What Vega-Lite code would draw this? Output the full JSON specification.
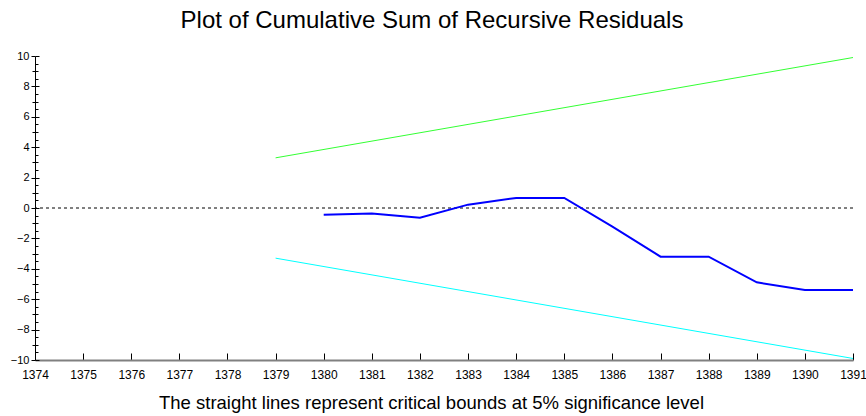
{
  "$schema": "https://vega.github.io/schema/vega-lite/v6.json",
  "autosize": "none",
  "width": 818,
  "height": 304,
  "padding": {"left": 35, "top": 56, "right": 13, "bottom": 56},
  "background": "white",
  "config": {
    "view": {"stroke": null},
    "font": "Liberation Sans"
  },
  "title": {
    "text": "Plot of Cumulative Sum of Recursive Residuals",
    "font": "Liberation Sans",
    "fontSize": 24,
    "fontWeight": "normal",
    "color": "black",
    "anchor": "middle",
    "baseline": "alphabetic",
    "offset": -2,
    "dx": -12
  },
  "datasets": {
    "cusum": [
      {"year": 1380, "value": -0.44},
      {"year": 1381, "value": -0.37},
      {"year": 1382, "value": -0.64},
      {"year": 1383, "value": 0.22},
      {"year": 1384, "value": 0.66},
      {"year": 1385, "value": 0.66},
      {"year": 1386, "value": -1.23},
      {"year": 1387, "value": -3.2},
      {"year": 1388, "value": -3.2},
      {"year": 1389, "value": -4.89},
      {"year": 1390, "value": -5.39},
      {"year": 1391, "value": -5.39}
    ],
    "bounds": [
      {"year": 1379, "value": 3.3, "bound": "upper"},
      {"year": 1391, "value": 9.9, "bound": "upper"},
      {"year": 1379, "value": -3.3, "bound": "lower"},
      {"year": 1391, "value": -9.9, "bound": "lower"}
    ],
    "zero": [{"value": 0}]
  },
  "layer": [
    {
      "data": {"name": "zero"},
      "mark": {"type": "rule", "color": "black", "strokeWidth": 1, "strokeDash": [3, 3]},
      "encoding": {
        "y": {
          "field": "value",
          "type": "quantitative",
          "scale": {"domain": [-10, 10], "nice": false, "zero": false},
          "axis": {
            "orient": "left",
            "title": null,
            "values": [-10, -9.5, -9, -8.5, -8, -7.5, -7, -6.5, -6, -5.5, -5, -4.5, -4, -3.5, -3, -2.5, -2, -1.5, -1, -0.5, 0, 0.5, 1, 1.5, 2, 2.5, 3, 3.5, 4, 4.5, 5, 5.5, 6, 6.5, 7, 7.5, 8, 8.5, 9, 9.5, 10],
            "format": "d",
            "labelExpr": "datum.value % 2 == 0 ? datum.label : ''",
            "labelFont": "Liberation Sans",
            "labelFontSize": 11,
            "labelColor": "black",
            "labelPadding": 2,
            "labelFlush": false,
            "labelOverlap": false,
            "domainColor": "black",
            "domainWidth": 1,
            "tickColor": "black",
            "tickWidth": 1,
            "tickSize": {"condition": {"test": "datum.value % 2 == 0", "value": 4}, "value": 3},
            "grid": false
          }
        }
      }
    },
    {
      "data": {"name": "bounds"},
      "mark": {"type": "line", "strokeWidth": 1},
      "encoding": {
        "x": {
          "field": "year",
          "type": "quantitative",
          "scale": {"domain": [1374, 1391], "nice": false, "zero": false},
          "axis": {
            "title": "The straight lines represent critical bounds at 5% significance level",
            "titleFont": "Liberation Sans",
            "titleFontSize": 18.5,
            "titleFontWeight": "normal",
            "titleColor": "black",
            "titlePadding": 13,
            "titleX": 396,
            "values": [1374, 1375, 1376, 1377, 1378, 1379, 1380, 1381, 1382, 1383, 1384, 1385, 1386, 1387, 1388, 1389, 1390, 1391],
            "format": "d",
            "labelFont": "Liberation Sans",
            "labelFontSize": 12,
            "labelColor": "black",
            "labelFlush": false,
            "labelOverlap": false,
            "labelPadding": 16,
            "domainColor": "#808080",
            "domainWidth": 2,
            "tickColor": "black",
            "tickWidth": 1,
            "tickSize": -7,
            "grid": false
          }
        },
        "y": {
          "field": "value",
          "type": "quantitative",
          "scale": {"domain": [-10, 10], "nice": false, "zero": false},
          "axis": {
            "orient": "left",
            "title": null,
            "values": [-10, -9.5, -9, -8.5, -8, -7.5, -7, -6.5, -6, -5.5, -5, -4.5, -4, -3.5, -3, -2.5, -2, -1.5, -1, -0.5, 0, 0.5, 1, 1.5, 2, 2.5, 3, 3.5, 4, 4.5, 5, 5.5, 6, 6.5, 7, 7.5, 8, 8.5, 9, 9.5, 10],
            "labels": false,
            "domain": false,
            "tickColor": "black",
            "tickWidth": 1,
            "tickSize": {"condition": {"test": "datum.value % 2 == 0", "value": -4}, "value": -3},
            "grid": false
          }
        },
        "color": {
          "field": "bound",
          "type": "nominal",
          "scale": {"domain": ["upper", "lower"], "range": ["#33ff33", "#00ffff"]},
          "legend": null
        }
      }
    },
    {
      "data": {"name": "cusum"},
      "mark": {"type": "line", "color": "#0000ff", "strokeWidth": 2},
      "encoding": {
        "x": {"field": "year", "type": "quantitative"},
        "y": {"field": "value", "type": "quantitative", "axis": null}
      }
    }
  ],
  "resolve": {"axis": {"y": "independent"}}
}
